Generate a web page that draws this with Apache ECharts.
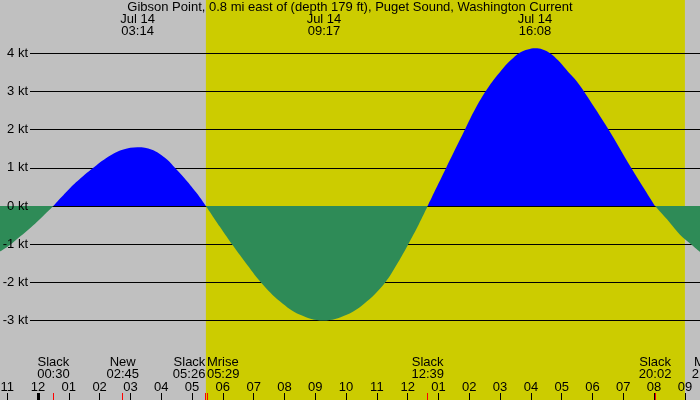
<!DOCTYPE html>
<html>
<head>
<meta charset="utf-8">
<title>Gibson Point current</title>
<script src="https://cdn.jsdelivr.net/npm/echarts@6/dist/echarts.min.js"></script>
</head>
<body style="margin:0">
<div id="main" style="width:700px;height:400px;"></div>
<script type="text/javascript">
// current: hours after midnight Jul 14, speed in knots
var hours = [-1.234, -0.909, -0.584, -0.26, 0.065, 0.5,
             0.98, 1.4, 1.9, 2.39, 2.77, 3.23, 3.7, 4.12, 4.39, 4.72, 5.15, 5.45,
             5.91, 6.34, 6.8, 7.26, 7.86, 8.51, 9.26, 10.02, 10.67, 11.27, 11.67, 12.02, 12.35, 12.65,
             13.25, 13.86, 14.2, 14.57, 15.05, 15.35, 15.65, 15.9, 16.14, 16.38, 16.62, 16.9, 17.22, 17.48, 17.76,
             18.52, 19.24, 20.03,
             20.42, 20.84, 21.17, 21.49];
var knots = [-1.19, -1.02, -0.80, -0.58, -0.34, 0,
             0.42, 0.74, 1.07, 1.34, 1.48, 1.54, 1.47, 1.26, 1.05, 0.76, 0.34, 0,
             -0.55, -1.05, -1.55, -2.02, -2.5, -2.85, -3.0, -2.85, -2.5, -2.0, -1.5, -1.0, -0.5, 0,
             1.0, 2.0, 2.55, 3.05, 3.56, 3.82, 4.02, 4.10, 4.13, 4.10, 4.0, 3.8, 3.5, 3.27, 2.95,
             2.0, 1.02, 0,
             -0.35, -0.75, -0.98, -1.2];

var ktLevels = [-3, -2, -1, 0, 1, 2, 3, 4];
var hourTicks = [-1, 0, 1, 2, 3, 4, 5, 6, 7, 8, 9, 10, 11, 12, 13, 14, 15, 16, 17, 18, 19, 20, 21];
var hourLabels = ['11', '12', '01', '02', '03', '04', '05', '06', '07', '08', '09', '10', '11',
                  '12', '01', '02', '03', '04', '05', '06', '07', '08', '09'];

var extremeHours = [3.233, 9.283, 16.133];
var extremeLabels = ['Jul 14\n03:14', 'Jul 14\n09:17', 'Jul 14\n16:08'];

var eventHours = [0.5, 2.75, 5.433, 5.483, 12.65, 20.033, 21.75];
var eventLabels = ['Slack\n00:30', 'New\n02:45', 'Slack\n05:26', 'Mrise\n05:29', 'Slack\n12:39', 'Slack\n20:02', 'Mset\n21:45'];

var daylight = [5.45, 21.0];
var xMin = -1.234, xMax = 21.49;
var yMin = -5.079, yMax = 5.393;

var FONT = '"Liberation Sans", Arial, sans-serif';

var chart = echarts.init(document.getElementById('main'));

// cut the curve at each slack (zero) so flood and ebb get their own fill colour
var lobes = [];
var cur = [];
hours.forEach(function (h, i) {
    cur.push([h, knots[i]]);
    if (knots[i] === 0 && cur.length > 1) {
        lobes.push(cur);
        cur = [[h, 0]];
    }
});
if (cur.length > 1) lobes.push(cur);

var curveSeries = lobes.map(function (pts) {
    var sum = 0;
    pts.forEach(function (p) { sum += p[1]; });
    var color = sum > 0 ? '#0000ff' : '#2e8b57';
    return {
        type: 'line', z: 2, data: pts, smooth: 0.4, showSymbol: false, silent: true,
        lineStyle: { width: 0 },
        itemStyle: { color: color },
        areaStyle: { color: color, opacity: 1 }
    };
});

var gridLines = ktLevels.map(function (v) {
    return [{ x: 30, yAxis: v }, { x: 700, yAxis: v }];
});

var option = {
    animation: false,
    backgroundColor: '#c0c0c0',
    title: {
        text: 'Gibson Point, 0.8 mi east of (depth 179 ft), Puget Sound, Washington Current',
        left: 'center',
        top: 1,
        padding: 0,
        textStyle: { fontSize: 13, fontWeight: 'normal', color: '#000', fontFamily: FONT, lineHeight: 12 }
    },
    grid: { left: 0, right: 0, top: 0, bottom: 0, containLabel: false, outerBoundsMode: 'none' },
    xAxis: [
        {
            type: 'value', min: xMin, max: xMax, position: 'bottom', z: 10,
            axisLine: { show: false, onZero: false },
            splitLine: { show: false },
            axisTick: { inside: true, length: 7, customValues: hourTicks, lineStyle: { color: '#000', width: 1 } },
            axisLabel: {
                inside: true, margin: 6, customValues: hourTicks,
                color: '#000', fontSize: 13, fontFamily: FONT,
                formatter: function (v) { return hourLabels[hourTicks.indexOf(v)]; }
            }
        },
        {
            type: 'value', min: xMin, max: xMax, position: 'bottom', z: 11,
            axisLine: { show: false, onZero: false },
            splitLine: { show: false },
            axisLabel: { show: false },
            axisTick: { inside: true, length: 7, customValues: eventHours.filter(function (h) { return h < xMax; }),
                        lineStyle: { color: '#ff0000', width: 1 } }
        },
        {
            type: 'value', min: xMin, max: xMax, position: 'bottom', z: 12,
            axisLine: { show: false, onZero: false },
            splitLine: { show: false },
            axisLabel: { show: false },
            axisTick: { inside: true, length: 7, customValues: [0], lineStyle: { color: '#000', width: 3 } }
        }
    ],
    yAxis: {
        type: 'value', min: yMin, max: yMax, z: 10,
        axisLine: { show: false, onZero: false },
        axisTick: { show: false },
        splitLine: { show: false },
        axisLabel: {
            inside: true, align: 'right', margin: 28, customValues: ktLevels,
            color: '#000', fontSize: 13, fontFamily: FONT,
            formatter: function (v) { return v + ' kt'; }
        }
    },
    series: [
        {
            type: 'line', data: [], z: 0, silent: true,
            markArea: {
                z: 0, silent: true,
                itemStyle: { color: '#cccc00', opacity: 1 },
                data: [[{ xAxis: daylight[0] }, { xAxis: daylight[1] }]]
            }
        },
        {
            type: 'line', data: [], z: 1, silent: true,
            markLine: {
                z: 1, silent: true, symbol: 'none',
                label: { show: false },
                lineStyle: { color: '#000', width: 1, type: 'solid' },
                data: gridLines
            }
        }
    ].concat(curveSeries)
};

chart.setOption(option);

// text labels for the extremes (top) and slack / moon events (bottom)
var graphics = [];
extremeHours.forEach(function (h, i) {
    graphics.push({
        type: 'text', z: 100,
        x: chart.convertToPixel({ xAxisIndex: 0 }, h), y: 13,
        style: { text: extremeLabels[i], align: 'center', verticalAlign: 'top', lineHeight: 12.5,
                 fontSize: 13, fontFamily: FONT, fill: '#000' }
    });
});
eventHours.forEach(function (h, i) {
    // neighbours that would overlap get pushed apart, as in the original plot
    var align = 'center';
    if (i + 1 < eventHours.length && eventHours[i + 1] - h < 0.3) align = 'right';
    if (i > 0 && h - eventHours[i - 1] < 0.3) align = 'left';
    graphics.push({
        type: 'text', z: 100,
        x: chart.convertToPixel({ xAxisIndex: 0 }, h), y: 356,
        style: { text: eventLabels[i], align: align, verticalAlign: 'top', lineHeight: 12.5,
                 fontSize: 13, fontFamily: FONT, fill: '#000' }
    });
});
chart.setOption({ graphic: graphics });
</script>
</body>
</html>
